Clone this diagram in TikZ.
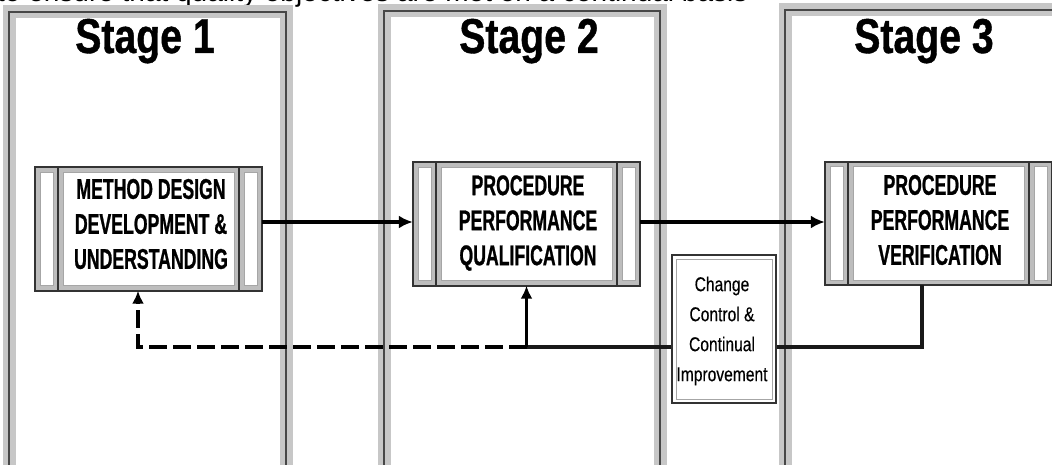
\documentclass[tikz,border=0pt]{standalone}
\usepackage{fontspec}
\setmainfont{Liberation Sans}
\newfontfamily\boxfont[FakeStretch=0.62, FakeBold=0.8]{Liberation Sans}
\newfontfamily\titlefont[FakeStretch=0.8, FakeBold=0.8]{Liberation Sans}
\newfontfamily\notefont[FakeStretch=0.78, FakeBold=0.3]{Liberation Sans}
\usetikzlibrary{arrows.meta,calc}

\tikzset{
  panelband/.style={draw=black!22, line width=13pt},
  panelline/.style={draw=black!72, line width=1.6pt},
  stagetitle/.style={anchor=base, inner sep=0pt, font=\titlefont\bfseries\fontsize{49}{52}\selectfont},
  stagebox/.style={rectangle, inner sep=0pt, minimum width=227pt, minimum height=123pt},
  boxtext/.style={align=center, inner sep=0pt, font=\boxfont\bfseries\fontsize{28.5}{35}\selectfont},
  notebox/.style={rectangle, draw=black!80, line width=1.8pt, fill=white, inner sep=0pt,
                  minimum width=104pt, minimum height=148pt},
  notetext/.style={align=center, inner sep=0pt, font=\notefont\fontsize{20}{30}\selectfont},
  mainarrow/.style={line width=3.8pt, -{Latex[length=14pt,width=13pt]}},
  feedline/.style={line width=3.2pt, black!90},
  feedarrow/.style={line width=3.4pt, -{Latex[length=13pt,width=12pt]}},
  dasharrow/.style={line width=3.6pt, dash pattern=on 18pt off 6pt, -{Latex[length=13pt,width=12pt]}},
}

% framed process box: grey band, three white compartments, dark outline
\newcommand{\procframe}[1]{%
  \fill[black!26] (#1.north west) rectangle (#1.south east);
  \filldraw[fill=white, draw=black!35, line width=0.6pt]
    ($(#1.north west)+(5,5)$) rectangle ($(#1.south west)+(18,-5)$);
  \filldraw[fill=white, draw=black!35, line width=0.6pt]
    ($(#1.north west)+(28,5)$) rectangle ($(#1.south east)+(-28,-5)$);
  \filldraw[fill=white, draw=black!35, line width=0.6pt]
    ($(#1.north east)+(-18,5)$) rectangle ($(#1.south east)+(-5,-5)$);
  \draw[black!80, line width=2pt] (#1.north west) rectangle (#1.south east);
  \draw[black!80, line width=1.8pt]
    ($(#1.north west)+(23,0)$) -- ($(#1.south west)+(23,0)$)
    ($(#1.north east)+(-23,0)$) -- ($(#1.south east)+(-23,0)$);
}

% stage panel: wide grey band with a dark line along its middle
\newcommand{\stagepanel}[4]{%
  \draw[panelband] (#1,#4) -- (#1,#2) -- (#3,#2) -- (#3,#4);
  \draw[panelline] (#1,#4) -- (#1,#2) -- (#3,#2) -- (#3,#4);
}

\begin{document}
\begin{tikzpicture}[x=1pt, y=-1pt]
  \useasboundingbox (0,0) rectangle (1052,465);
  \clip (0,0) rectangle (1052,465);

  % running text line from the page above, only its lower edge shows
  \node[anchor=base west, inner sep=0pt, font=\fontsize{28}{30}\selectfont] (head) at (-3,1.5)
    {to ensure that quality objectives are met on a continual basis};

  % the three stage panels
  \stagepanel{9}{12}{286}{470}
  \stagepanel{384}{11}{660}{470}
  \stagepanel{785}{10}{1065}{470}

  \node[stagetitle] (s1) at (145,53) {Stage 1};
  \node[stagetitle] (s2) at (529,53) {Stage 2};
  \node[stagetitle] (s3) at (924,53) {Stage 3};

  % process boxes
  \node[stagebox] (b1) at (148.5,229) {};
  \procframe{b1}
  \node[boxtext] (b1t) at (151,224) {METHOD DESIGN\\DEVELOPMENT \&\\UNDERSTANDING};

  \node[stagebox] (b2) at (526.5,224) {};
  \procframe{b2}
  \node[boxtext] (b2t) at (528,223) {PROCEDURE\\PERFORMANCE\\QUALIFICATION};

  \node[stagebox] (b3) at (938.5,223.5) {};
  \procframe{b3}
  \node[boxtext] (b3t) at (940,220) {PROCEDURE\\PERFORMANCE\\VERIFICATION};

  % change control box
  \node[notebox] (cc) at (724,329) {};
  \draw[black!35, line width=0.8pt] ($(cc.north west)+(5,5)$) rectangle ($(cc.south east)+(-5,-5)$);
  \node[notetext] (cct) at (722,331) {Change\\Control \&\\Continual\\Improvement};

  % forward arrows
  \coordinate (ay) at (0,222);
  \draw[mainarrow] (b1.east |- ay) -- (b2.west |- ay);
  \draw[mainarrow] (b2.east |- ay) -- (b3.west |- ay);

  % feedback loop
  \coordinate (fy) at (0,347);
  \coordinate (t3) at (922,347);
  \coordinate (jn) at (b2.south |- fy);
  \coordinate (jd) at (138,347);
  \draw[feedline] (t3 |- b3.south) -- (t3) -- (cc.east |- t3);
  \draw[feedline] (cc.west |- t3) -- (jn);
  \draw[feedarrow] (jn) -- (b2.south);
  \draw[dasharrow] (jn) -- (jd) -- (jd |- b1.south);
\end{tikzpicture}
\end{document}
